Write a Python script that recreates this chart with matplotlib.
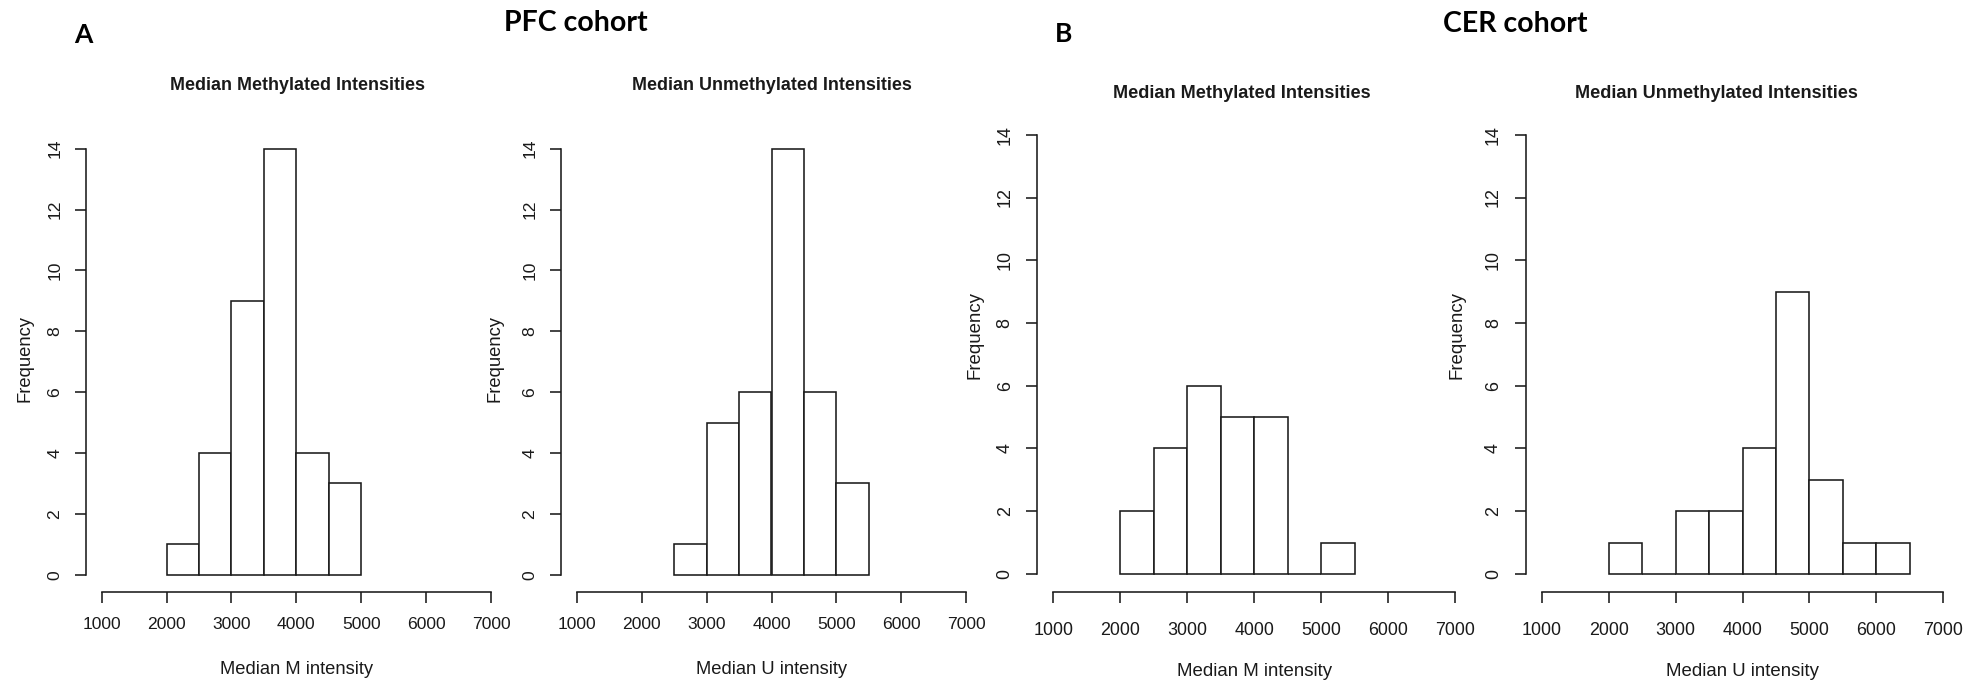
import numpy as np
import matplotlib
matplotlib.use("Agg")
import matplotlib.pyplot as plt

# Histogram bins (left edges) and counts for each cohort / channel
pfc_m_bins = [2000, 2500, 3000, 3500, 4000, 4500]
pfc_m_counts = [1, 4, 9, 14, 4, 3]

pfc_u_bins = [2500, 3000, 3500, 4000, 4500, 5000]
pfc_u_counts = [1, 5, 6, 14, 6, 3]

cer_m_bins = [2000, 2500, 3000, 3500, 4000, 4500, 5000]
cer_m_counts = [2, 4, 6, 5, 5, 0, 1]

cer_u_bins = [2000, 2500, 3000, 3500, 4000, 4500, 5000, 5500, 6000]
cer_u_counts = [1, 0, 2, 2, 4, 9, 3, 1, 1]

bin_width = 500
x_ticks = [1000, 2000, 3000, 4000, 5000, 6000, 7000]
y_ticks = [0, 2, 4, 6, 8, 10, 12, 14]

W, H = 1968, 682
fig = plt.figure(figsize=(W / 100, H / 100), dpi=100)
fig.patch.set_facecolor("white")

SANS = ["Liberation Sans", "DejaVu Sans"]
HEAD = ["Lato", "Open Sans", "DejaVu Sans"]
INK = "#1a1a1a"


def fx(x):
    return x / W


def fy(y):
    return 1 - y / H


def add_panel(box, bins, counts, title, xlabel, title_xy, ylab_xy,
              xpad, ypad, fs_tick, fs_lab):
    left, right, top, bottom = box
    ax = fig.add_axes([fx(left), fy(bottom), fx(right - left), (bottom - top) / H])
    ax.bar(bins, counts, width=bin_width, align="edge", facecolor="white",
           edgecolor=INK, linewidth=1.15)
    ax.set_xlim(760, 7240)
    ax.set_ylim(-0.56, 14.56)
    for side in ("top", "right"):
        ax.spines[side].set_visible(False)
    ax.spines["left"].set_bounds(0, 14)
    ax.spines["bottom"].set_bounds(1000, 7000)
    for side in ("left", "bottom"):
        ax.spines[side].set_linewidth(1.15)
        ax.spines[side].set_color(INK)
    ax.set_xticks(x_ticks)
    ax.set_yticks(y_ticks)
    ax.set_xticklabels([str(v) for v in x_ticks], fontfamily=SANS, fontsize=fs_tick)
    ax.set_yticklabels([str(v) for v in y_ticks], fontfamily=SANS, fontsize=fs_tick,
                       rotation=90, va="center")
    ax.tick_params(axis="x", length=8, width=1.15, color=INK, pad=xpad, labelcolor=INK)
    ax.tick_params(axis="y", length=8, width=1.15, color=INK, pad=ypad, labelcolor=INK)
    ax.patch.set_alpha(0)
    fig.text(fx(title_xy[0]), fy(title_xy[1]), title, ha="center", va="center",
             fontfamily=SANS, fontsize=fs_lab - 0.3, fontweight="bold", color=INK)
    fig.text(fx((left + right) / 2), fy(title_xy[2]), xlabel, ha="center", va="center",
             fontfamily=SANS, fontsize=fs_lab, color=INK)
    fig.text(fx(ylab_xy[0]), fy(ylab_xy[1]), "Frequency", ha="center", va="center",
             rotation=90, fontfamily=SANS, fontsize=fs_lab, color=INK)
    return ax


# PFC cohort
add_panel((86, 506.7, 131.6, 591.8), pfc_m_bins, pfc_m_counts,
          "Median Methylated Intensities", "Median M intensity",
          (298, 86, 670), (25, 358), 10, 9, 12.6, 13.2)
add_panel((561, 982, 131.6, 591.8), pfc_u_bins, pfc_u_counts,
          "Median Unmethylated Intensities", "Median U intensity",
          (771.7, 86, 670), (495, 358), 10, 9, 12.6, 13.2)

# CER cohort
add_panel((1037.3, 1471.1, 117.2, 591.5), cer_m_bins, cer_m_counts,
          "Median Methylated Intensities", "Median M intensity",
          (1241.5, 93, 672), (975, 335), 14, 9, 12.9, 13.4)
add_panel((1525.7, 1959.4, 117.2, 591.5), cer_u_bins, cer_u_counts,
          "Median Unmethylated Intensities", "Median U intensity",
          (1716.7, 93, 672), (1457, 335), 14, 9, 12.9, 13.4)

# Panel letters and cohort headings
fig.text(fx(83), fy(35), "A", ha="center", va="center", fontfamily=HEAD,
         fontsize=19, fontweight="bold", color="black")
fig.text(fx(1063.5), fy(34), "B", ha="center", va="center", fontfamily=HEAD,
         fontsize=19, fontweight="bold", color="black")
fig.text(fx(575.5), fy(23), "PFC cohort", ha="center", va="center", fontfamily=HEAD,
         fontsize=20.5, fontweight="bold", color="black")
fig.text(fx(1515), fy(24), "CER cohort", ha="center", va="center", fontfamily=HEAD,
         fontsize=20.5, fontweight="bold", color="black")

fig.savefig("out.png", dpi=100, facecolor="white")
